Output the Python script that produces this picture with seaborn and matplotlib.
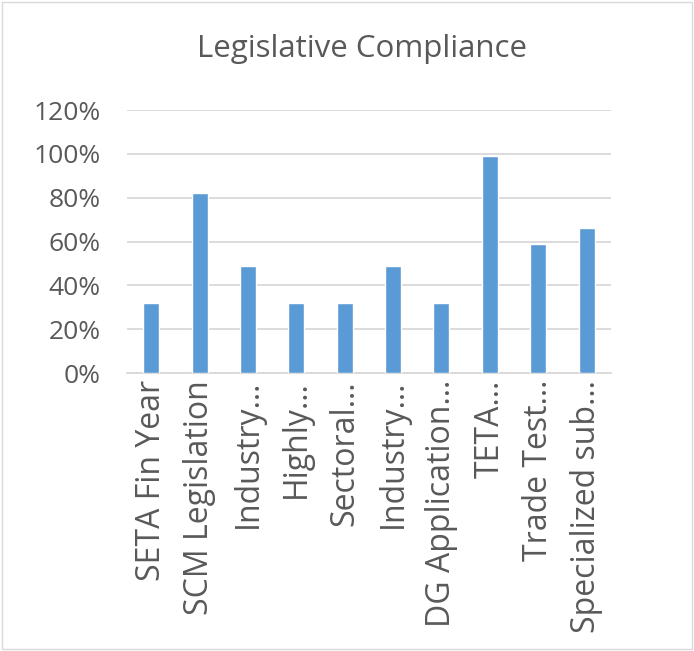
import matplotlib
matplotlib.use("Agg")
import matplotlib.pyplot as plt
import seaborn as sns
import pandas as pd
import numpy as np
from matplotlib.ticker import PercentFormatter, FixedLocator
from matplotlib.patches import Rectangle

categories = ["SETA Fin Year", "SCM Legislation", "Industry…", "Highly…", "Sectoral…",
              "Industry…", "DG Application…", "TETA…", "Trade Test…", "Specialized sub…"]
values = [0.32, 0.82, 0.49, 0.32, 0.32, 0.49, 0.32, 0.99, 0.59, 0.66]
yticks = [0, 0.2, 0.4, 0.6, 0.8, 1.0, 1.2]

sns.set_theme(style="white")
plt.rcParams['font.family'] = ['Open Sans', 'DejaVu Sans']

gray = "#595959"
df = pd.DataFrame({"cat": [f"{i}" for i in range(len(categories))], "val": values})

fig = plt.figure(figsize=(6.94, 6.51), dpi=100)
fig.patches.append(Rectangle((0.003, 0.003), 0.994, 0.994, transform=fig.transFigure,
                             fill=False, edgecolor="#d9d9d9", linewidth=1))
ax = fig.add_axes([0.183, 0.427, 0.697, 0.404])
sns.barplot(data=df, x="cat", y="val", color="#5b9bd5", width=0.33, ax=ax,
            saturation=1, zorder=3)
ax.set_ylim(0, 1.2)
ax.set_xlim(-0.5, len(categories) - 0.5)
ax.yaxis.set_major_locator(FixedLocator(yticks))
ax.yaxis.set_major_formatter(PercentFormatter(1.0, decimals=0))
ax.grid(axis="y", color="#d9d9d9", linewidth=1.3, zorder=0)
ax.set_axisbelow(True)
for s in ["top", "right", "left"]:
    ax.spines[s].set_visible(False)
ax.spines["bottom"].set_color("#d9d9d9")
ax.spines["bottom"].set_linewidth(1.3)
ax.set_xticks(range(len(categories)))
ax.set_xticklabels(categories, rotation=90, fontsize=23, color=gray)
ax.tick_params(axis="x", which="major", length=0, pad=5)
ax.set_xticks(np.arange(-0.5, len(categories), 1.0), minor=True)
ax.tick_params(axis="x", which="minor", length=7, color="#d9d9d9", width=1.3, direction="out")
ax.tick_params(axis="y", length=0, labelsize=19, labelcolor=gray, pad=19)
ax.set_xlabel("")
ax.set_ylabel("")
fig.text(0.522, 0.925, "Legislative Compliance", ha="center", va="center",
         fontsize=22.5, color=gray)
fig.savefig("out.png", dpi=100)
